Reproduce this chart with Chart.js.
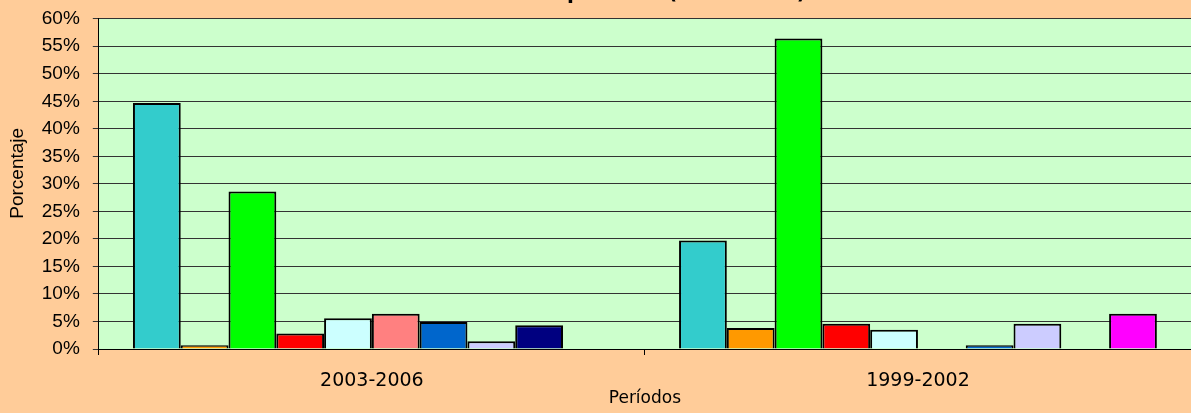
<!DOCTYPE html>
<html>
<head>
<meta charset="utf-8">
<script src="https://cdn.jsdelivr.net/npm/chart.js@4"></script>
<style>
  html, body { margin: 0; padding: 0; background: #FFCC99; }
  #wrap { width: 1191px; height: 413px; }
</style>
</head>
<body>
<div id="wrap"><canvas id="grafico"></canvas></div>
<script>
// periodos y porcentajes
const periodos = ["2003-2006", "1999-2002"];
const partidos = ["Partido 1", "Partido 2", "Partido 3", "Partido 4", "Partido 5",
                  "Partido 6", "Partido 7", "Partido 8", "Partido 9", "Partido 10"];
const valores2003 = [44.7, 0.7, 28.6, 2.8, 5.6, 6.4, 4.9, 1.4, 4.3, 0];
const valores1999 = [19.7, 3.8, 56.4, 4.6, 3.5, 0, 0.7, 4.6, 0, 6.4];
const titulo = "Distribución de partidos (1999-2006)";

const colores = ["#33CCCC", "#FF9900", "#00FF00", "#FF0000", "#CCFFFF",
                 "#FF8080", "#0066CC", "#CCCCFF", "#000080", "#FF00FF"];

const fondoArea = {
    id: "fondoArea",
    beforeDraw(chart) {
        const { ctx, chartArea } = chart;
        ctx.save();
        ctx.fillStyle = "#CCFFCC";
        ctx.fillRect(chartArea.left, chartArea.top, chartArea.right - chartArea.left, chartArea.bottom - chartArea.top);
        ctx.restore();
    },
    afterDatasetsDraw(chart) {
        // etiquetas del eje x con espaciado de letras
        chart.ctx.letterSpacing = "1.5px";
    },
    afterDraw(chart) {
        const ctx = chart.ctx;
        ctx.letterSpacing = "0px";
        // titulo cortado en el borde superior
        ctx.save();
        ctx.font = "bold 20px 'DejaVu Sans'";
        ctx.fillStyle = "#000";
        ctx.textAlign = "right";
        ctx.textBaseline = "alphabetic";
        ctx.fillText(titulo, 806, -1);
        ctx.restore();
    }
};

const datasets = partidos.map((nombre, i) => ({
    label: nombre,
    data: [valores2003[i], valores1999[i]],
    backgroundColor: colores[i],
    borderColor: "#000",
    borderWidth: 2,
    borderSkipped: "start"
}));

const ctx = document.getElementById("grafico").getContext("2d");
const chart = new Chart(ctx, {
    type: "bar",
    data: { labels: periodos, datasets: datasets },
    options: {
        animation: false,
        responsive: true,
        maintainAspectRatio: false,
        layout: { padding: { left: 2, top: 12, right: -5, bottom: 0 } },
        categoryPercentage: 0.875,
        barPercentage: 1,
        plugins: {
            legend: { display: false },
            tooltip: { enabled: false }
        },
        scales: {
            x: {
                z: 1,
                grid: {
                    offset: true,
                    drawOnChartArea: false,
                    tickLength: 6,
                    color: "#000"
                },
                border: { color: "#000", width: 1 },
                ticks: {
                    padding: 17,
                    color: "#000",
                    font: { family: "'DejaVu Sans'", size: 19, lineHeight: 1 }
                },
                title: {
                    display: true,
                    text: "Períodos",
                    color: "#000",
                    padding: { top: -18, bottom: 6 },
                    font: { family: "'DejaVu Sans'", size: 17, lineHeight: 1 }
                }
            },
            y: {
                min: 0,
                max: 60,
                grid: { color: "#333", tickLength: 6 },
                border: { color: "#000", width: 1 },
                ticks: {
                    stepSize: 5,
                    padding: 13,
                    color: "#000",
                    font: { family: "'Liberation Sans', Arial", size: 19, lineHeight: 0.6 },
                    callback: v => v + "%"
                },
                title: {
                    display: true,
                    text: "    Porcentaje",
                    color: "#000",
                    padding: { top: 4, bottom: 0 },
                    font: { family: "'Liberation Sans', Arial", size: 19 }
                }
            }
        }
    },
    plugins: [fondoArea]
});
</script>
</body>
</html>
